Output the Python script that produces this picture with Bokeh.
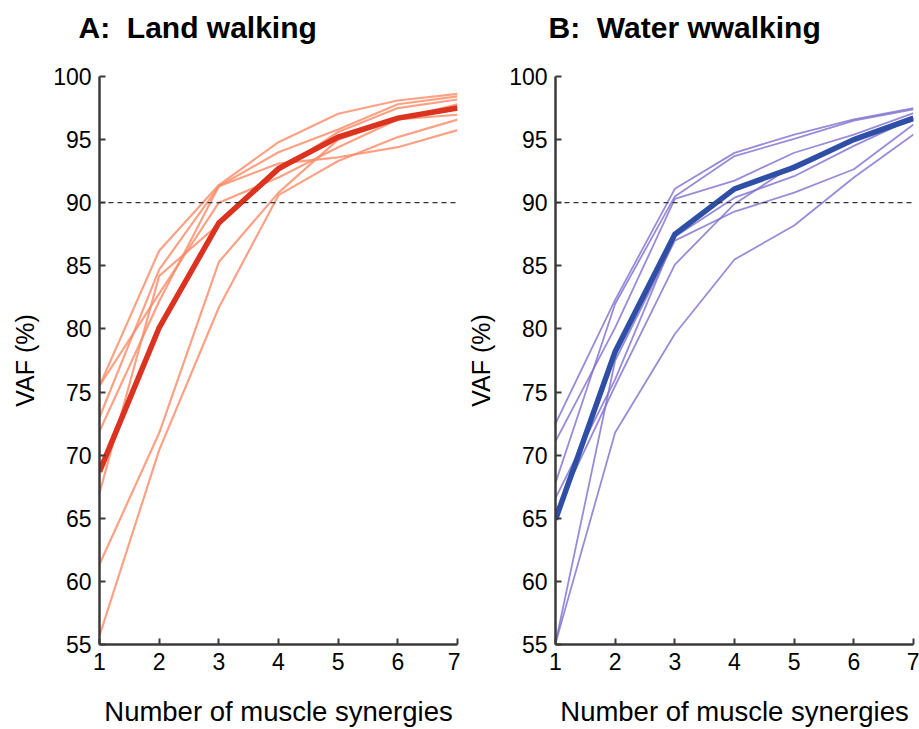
from bokeh.plotting import figure
from bokeh.layouts import row
from bokeh.models import Span, Range1d, FixedTicker
from bokeh.embed import file_html
from bokeh.resources import INLINE

synergies = [1, 2, 3, 4, 5, 6, 7]
y_ticks = [55, 60, 65, 70, 75, 80, 85, 90, 95, 100]
threshold = 90

land_subjects = [
    [75.5, 86.2, 91.4, 94.8, 97.05, 98.1, 98.62],
    [73.0, 84.7, 91.3, 94.0, 95.8, 97.8, 98.43],
    [71.9, 82.2, 91.3, 93.1, 93.6, 94.4, 95.75],
    [67.0, 84.2, 88.3, 92.5, 95.6, 97.5, 98.18],
    [75.5, 82.8, 90.0, 92.0, 94.4, 96.6, 97.8],
    [61.35, 71.75, 85.3, 90.8, 95.0, 96.6, 96.97],
    [55.7, 70.4, 81.7, 90.6, 93.3, 95.2, 96.58],
]
land_mean = [68.7, 80.1, 88.4, 92.7, 95.2, 96.7, 97.5]

water_subjects = [
    [72.5, 82.3, 91.1, 93.95, 95.4, 96.6, 97.5],
    [67.8, 82.0, 90.5, 93.7, 95.05, 96.5, 97.4],
    [71.1, 80.1, 90.3, 91.75, 93.96, 95.4, 97.1],
    [66.6, 76.0, 87.3, 90.4, 92.1, 94.5, 96.7],
    [55.1, 77.5, 87.0, 89.3, 90.8, 92.65, 96.2],
    [65.5, 75.5, 85.1, 89.9, 93.0, 95.0, 96.5],
    [55.1, 71.8, 79.6, 85.5, 88.2, 92.0, 95.4],
]
water_mean = [64.9, 78.2, 87.5, 91.1, 92.8, 95.0, 96.7]

FONT = "Liberation Sans"
AXIS_COLOR = "#3a3a3a"


def make_panel(title, subjects, mean, thin_color, thin_alpha, thin_width, mean_color,
               b_left, b_right, b_top, b_bottom, title_offset, xlabel_standoff, xlabel_lh):
    p = figure(width=b_left + 358 + b_right, height=729,
               x_range=Range1d(1, 7), y_range=Range1d(55, 100),
               output_backend="svg", toolbar_location=None,
               min_border_left=b_left, min_border_right=b_right,
               min_border_top=b_top, min_border_bottom=b_bottom)
    p.outline_line_color = None
    p.grid.visible = False
    p.background_fill_color = "white"
    p.border_fill_color = "white"

    # second (blank) line lifts the title away from the frame
    p.title.text = title + "\n\u00a0"
    p.title.text_font = FONT
    p.title.text_font_size = "30px"
    p.title.text_font_style = "bold"
    p.title.text_color = "black"
    p.title.offset = title_offset
    p.title.standoff = 0

    for ax in (p.xaxis, p.yaxis):
        ax.axis_line_color = AXIS_COLOR
        ax.axis_line_width = 2.5
        ax.major_tick_line_color = AXIS_COLOR
        ax.major_tick_line_width = 2
        ax.major_tick_in = 6
        ax.major_tick_out = 0
        ax.minor_tick_line_color = None
        ax.major_label_text_font = FONT
        ax.major_label_text_font_size = "23px"
        ax.major_label_text_color = "black"
        ax.axis_label_text_font = FONT
        ax.axis_label_text_font_style = "normal"
        ax.axis_label_text_color = "black"

    p.yaxis.axis_label_text_font_size = "25px"
    p.xaxis.ticker = FixedTicker(ticks=synergies)
    p.yaxis.ticker = FixedTicker(ticks=y_ticks)
    p.yaxis.axis_label = "VAF (%)"
    p.xaxis.major_label_standoff = 8
    p.yaxis.major_label_standoff = 8
    p.yaxis.axis_label_standoff = 11

    p.xaxis.axis_label = "Number of muscle synergies"
    p.xaxis.axis_label_text_font_size = "27.5px"
    p.xaxis.axis_label_text_line_height = xlabel_lh
    p.xaxis.axis_label_standoff = xlabel_standoff

    p.add_layout(Span(location=threshold, dimension="width", line_color="#333333",
                      line_dash="5 4", line_width=1.3))

    for s in subjects:
        p.line(synergies, s, line_color=thin_color, line_alpha=thin_alpha,
               line_width=thin_width)
    p.line(synergies, mean, line_color=mean_color, line_width=5.5,
           line_join="miter")
    return p


p1 = make_panel("A:\u00a0 Land walking", land_subjects, land_mean,
                "#fc8a66", 0.8, 2.2, "#dc3220",
                99, 3, 76, 81, -21, 23, 0.6)
p2 = make_panel("B:\u00a0 Water wwalking", water_subjects, water_mean,
                "#7d6fcf", 0.8, 1.8, "#2f4fa6",
                95, 6, 73, 84, -7, 23, 0.9)

layout = row(p1, p2, spacing=0)
open("out.html", "w").write(file_html(layout, INLINE))
